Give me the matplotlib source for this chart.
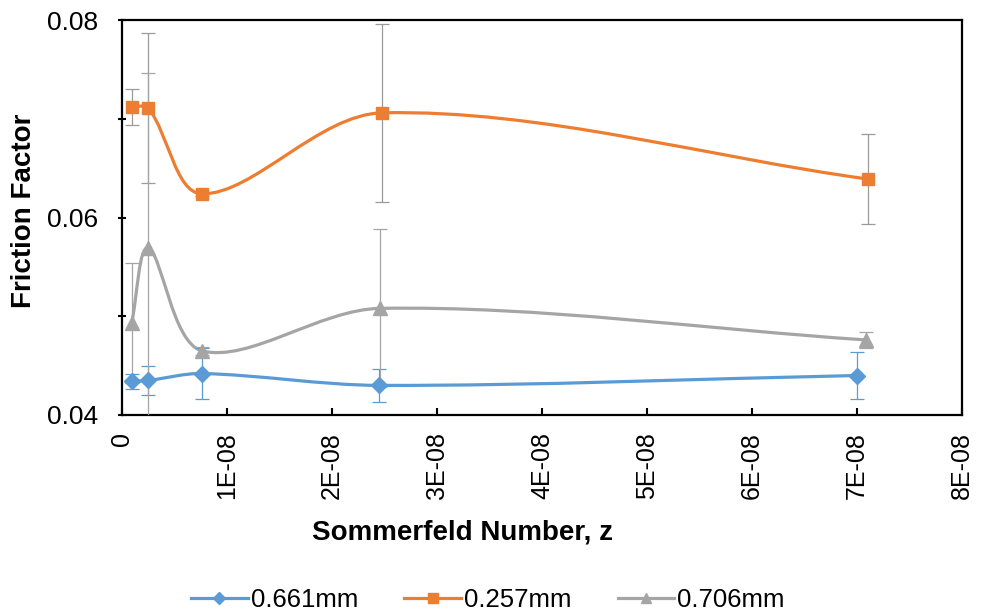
import matplotlib
matplotlib.use('Agg')
import matplotlib.pyplot as plt
import numpy as np
from matplotlib.path import Path
from matplotlib.patches import PathPatch
from matplotlib.lines import Line2D
from matplotlib.ticker import FixedLocator, FuncFormatter

plt.rcParams['font.family'] = ['Liberation Sans', 'DejaVu Sans']

# Data
labels = ['0.661mm', '0.257mm', '0.706mm']

x_661 = [0.092e-8, 0.25e-8, 0.76e-8, 2.45e-8, 7.00e-8]
y_661 = [0.0434, 0.0435, 0.0442, 0.0430, 0.0440]
e_661 = [0.0008, 0.0015, 0.0026, 0.0017, 0.0024]

x_257 = [0.092e-8, 0.25e-8, 0.76e-8, 2.48e-8, 7.10e-8]
y_257 = [0.0712, 0.0711, 0.0624, 0.0706, 0.0639]
e_257 = [0.0018, 0.0076, 0.0002, 0.0090, 0.0046]

x_706 = [0.092e-8, 0.25e-8, 0.76e-8, 2.46e-8, 7.09e-8]
y_706 = [0.0493, 0.0569, 0.0465, 0.0508, 0.0476]
e_706 = [0.0061, 0.0177, 0.0004, 0.0080, 0.0008]

blue = '#5B9BD5'
orange = '#ED7D31'
grey = '#A5A5A5'


def smooth_path(ax, x, y):
    # smoothed line like a spreadsheet chart: Bezier segments, handles scaled
    # by the on-screen chord lengths so short segments do not overshoot
    p = np.column_stack([x, y])
    d = ax.transData.transform(p)
    n = len(p)
    L = np.hypot(*np.diff(d, axis=0).T)
    verts = [p[0]]
    codes = [Path.MOVETO]
    for i in range(n - 1):
        if i > 0:
            t1 = (p[i + 1] - p[i - 1]) * L[i] / (L[i - 1] + L[i]) / 3.0
        else:
            t1 = (p[i + 1] - p[i]) / 3.0
        if i + 2 < n:
            t2 = (p[i + 2] - p[i]) * L[i] / (L[i] + L[i + 1]) / 3.0
        else:
            t2 = (p[i + 1] - p[i]) / 3.0
        verts += [p[i] + t1, p[i + 1] - t2, p[i + 1]]
        codes += [Path.CURVE4] * 3
    return Path(verts, codes)


fig = plt.figure(figsize=(9.82, 6.16), dpi=100)
ax = fig.add_axes([122 / 982, 1 - 415 / 616, 840 / 982, 395 / 616])
ax.set_xlim(0, 8e-8)
ax.set_ylim(0.04, 0.08)

series = [
    (x_661, y_661, e_661, blue, blue, blue, 'D', 8),
    (x_257, y_257, e_257, orange, '#9a9a9a', orange, 's', 9),
    (x_706, y_706, e_706, grey, grey, grey, '^', 9.5),
]

handles = []
for (x, y, e, col, stem, cap, mk, ms), lab in zip(series, labels):
    ax.add_patch(PathPatch(smooth_path(ax, x, y), fill=False, ec=col, lw=2.3,
                           capstyle='round', zorder=2))
    eb = ax.errorbar(x, y, yerr=e, fmt='none', ecolor=stem, elinewidth=0.9,
                     capsize=5, capthick=0.9, zorder=3)
    for c in eb[1]:
        c.set_color(cap)
    ax.plot(x, y, ls='none', marker=mk, ms=ms, color=col, mec=col, zorder=4)
    handles.append(Line2D([], [], color=col, lw=2.3, marker=mk, ms=ms * 0.75, mec=col))

ax.set_xlim(0, 8e-8)
ax.set_ylim(0.04, 0.08)
ax.xaxis.set_major_locator(FixedLocator(np.arange(0, 9) * 1e-8))
ax.xaxis.set_major_formatter(FuncFormatter(lambda v, p: '0' if abs(v) < 1e-12 else '%dE-08' % round(v * 1e8)))
ax.yaxis.set_major_locator(FixedLocator([0.04, 0.06, 0.08]))
ax.yaxis.set_minor_locator(FixedLocator([0.05, 0.07]))
ax.yaxis.set_major_formatter(FuncFormatter(lambda v, p: '%.2f' % v))

ax.tick_params(axis='x', direction='in', length=5, width=1.5, pad=12,
               labelsize=18, labelrotation=90)
ax.tick_params(axis='y', which='both', direction='inout', length=6, width=1.5,
               pad=14, labelsize=19)
for s in ax.spines.values():
    s.set_linewidth(1.6)
    s.set_color('black')

fig.text(24 / 982, 1 - 211 / 616, 'Friction Factor', rotation=90, ha='center',
         va='center', fontsize=20, fontweight='bold')
fig.text(462 / 982, 1 - 533 / 616, 'Sommerfeld Number, z', ha='center',
         va='center', fontsize=20, fontweight='bold')

fig.legend(handles, labels, loc='center', bbox_to_anchor=(488 / 982, 1 - 600 / 616),
           ncol=3, frameon=False, fontsize=18.5, handlelength=2.2,
           handletextpad=0.12, columnspacing=1.8)

fig.savefig('out.png', dpi=100)
